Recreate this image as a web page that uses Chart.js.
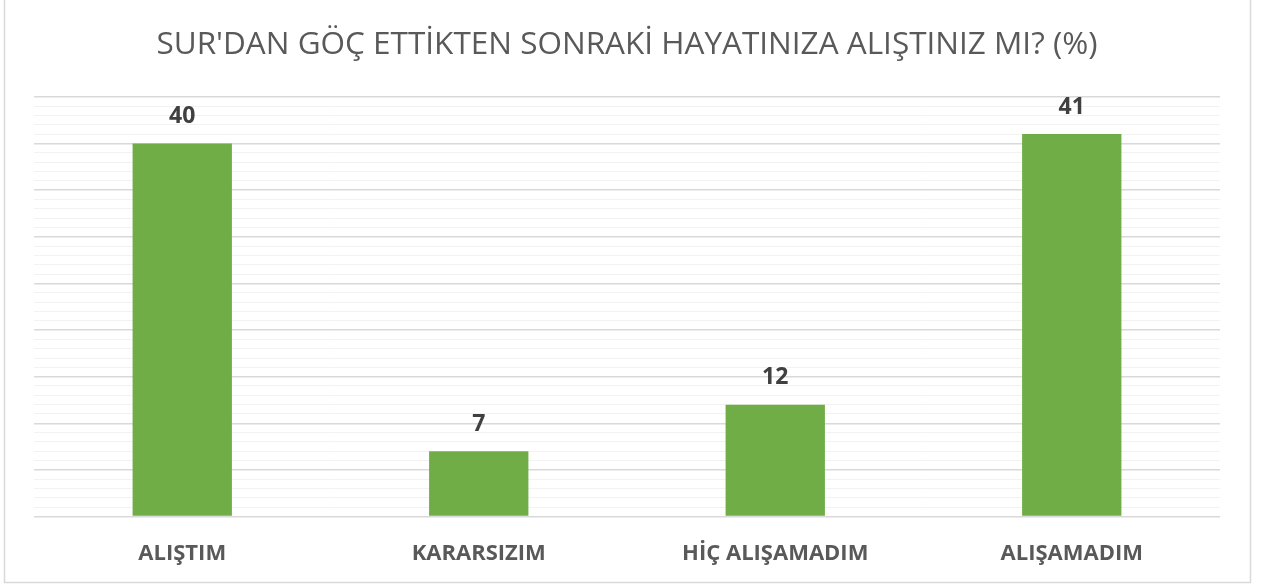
<!DOCTYPE html>
<html>
<head>
<meta charset="utf-8">
<script src="https://cdn.jsdelivr.net/npm/chart.js@4"></script>
<style>
  body { margin: 0; background: #ffffff; }
  #box { width: 1262px; height: 588px; position: relative; }
</style>
</head>
<body>
<div id="box"><canvas id="gocChart"></canvas></div>
<script>
// Data
const chartTitle = "SUR'DAN GÖÇ ETTİKTEN SONRAKİ HAYATINIZA ALIŞTINIZ MI? (%)";
const categories = ["ALIŞTIM", "KARARSIZIM", "HİÇ ALIŞAMADIM", "ALIŞAMADIM"];
const percentages = [40, 7, 12, 41];
const axisMax = 45;

const fontName = "'Open Sans', 'Liberation Sans', sans-serif";

/**********************************************************/
/*       Plugin: outer frame and value above each bar     */
/**********************************************************/
const framePlugin = {
  id: 'frame',
  afterDraw(chart) {
    const ctx = chart.ctx;
    ctx.save();
    ctx.strokeStyle = '#d9d9d9';
    ctx.lineWidth = 1.5;
    ctx.strokeRect(4.5, -2, 1246, 584.5);
    ctx.restore();
  }
};

const valueLabels = {
  id: 'valueLabels',
  afterDatasetsDraw(chart) {
    const ctx = chart.ctx;
    const meta = chart.getDatasetMeta(0);
    ctx.save();
    ctx.font = "bold 23px " + fontName;
    ctx.fillStyle = '#404040';
    ctx.textAlign = 'center';
    ctx.textBaseline = 'middle';
    meta.data.forEach(function(bar, i) {
      ctx.fillText(String(percentages[i]), bar.x, bar.y - 27); // Value just above the bar
    });
    ctx.restore();
  }
};

// Draw chart
var chart = new Chart(document.getElementById('gocChart'), {
  type: 'bar',
  data: {
    labels: categories,
    datasets: [{
      data: percentages,
      backgroundColor: '#70ad47',
      borderWidth: 0,
      barPercentage: 0.67,
      categoryPercentage: 0.5
    }]
  },
  options: {
    responsive: true,
    maintainAspectRatio: false,
    animation: false,
    layout: { padding: { left: 34, right: 42, top: 0, bottom: -3 } },
    plugins: {
      legend: { display: false },
      tooltip: { enabled: false },
      title: {
        display: true,
        text: chartTitle,
        color: '#595959',
        font: { family: fontName, size: 31.5, weight: 'normal' },
        padding: { top: 26, bottom: 33 }
      }
    },
    scales: {
      x: {
        grid: { display: false, drawTicks: false },
        border: { display: false },
        ticks: {
          color: '#595959',
          font: { family: fontName, size: 22, weight: 'bold' },
          padding: 24
        }
      },
      y: {
        min: 0,
        max: axisMax,
        border: { display: false },
        ticks: { display: false, stepSize: 1 },
        grid: {
          drawTicks: false,
          color: (c) => (c.tick.value % 5 === 0 ? '#d9d9d9' : '#f2f2f2'),
          lineWidth: (c) => (c.tick.value % 5 === 0 ? 1.5 : 1)
        }
      }
    }
  },
  plugins: [framePlugin, valueLabels]
});
</script>
</body>
</html>
